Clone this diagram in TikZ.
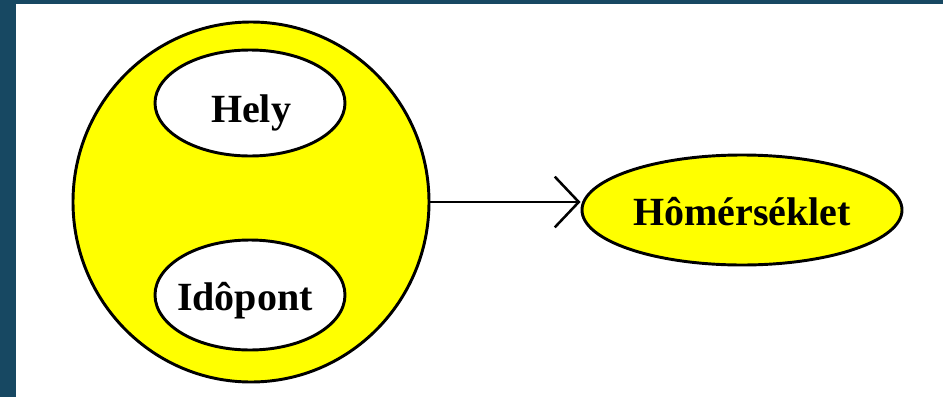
\documentclass[tikz,border=0pt]{standalone}
\usepackage{fontspec}
\setmainfont{Liberation Serif}
\usetikzlibrary{arrows.meta,shapes.geometric}
\definecolor{bandteal}{RGB}{23,72,98}
\definecolor{ylw}{RGB}{255,255,0}
\tikzset{
  oval/.style={ellipse, draw=black, line width=2.2pt, inner sep=0pt},
  lbl/.style={anchor=base, inner sep=0pt, font=\fontsize{30}{36}\selectfont\bfseries},
}
\begin{document}
\begin{tikzpicture}[x=0.75pt, y=-0.75pt]
\useasboundingbox (0,0) rectangle (943,397);
\fill[white] (0,0) rectangle (943,397);
\fill[bandteal] (0,0) rectangle (16,397);
\fill[bandteal] (0,0) rectangle (943,4);
% big circle
\node[oval, fill=ylw, minimum width=267pt, minimum height=270pt] (big) at (251,202) {};
\node[oval, fill=white, minimum width=142.5pt, minimum height=79.5pt] (hely) at (250,103) {};
\node[oval, fill=white, minimum width=142.5pt, minimum height=82.5pt] (ido) at (250,295) {};
\node[oval, fill=ylw, minimum width=240pt, minimum height=82.5pt] (homer) at (742,210) {};
\node[lbl] (helyt) at (251,122) {Hely};
\node[lbl] (idot) at (245,310) {Idôpont};
\node[lbl] (homert) at (742,225) {Hômérséklet};
\draw[line width=1.9pt, -{Straight Barb[length=18pt,width=38pt,line width=1.9pt]}] (big.east) -- (big.east -| homer.west);
\end{tikzpicture}
\end{document}
